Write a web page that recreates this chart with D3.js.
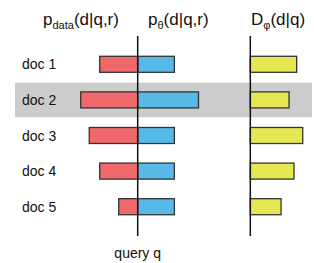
<!DOCTYPE html>
<html><head><meta charset="utf-8">
<script src="https://cdn.jsdelivr.net/npm/d3@7"></script>
<style>body{margin:0;background:#fff}svg{display:block}text{font-family:"Liberation Sans",Arial,sans-serif;fill:#111}</style>
</head><body>
<svg id="c" width="314" height="263"></svg>
<script>
const docs = ["doc 1","doc 2","doc 3","doc 4","doc 5"];
const pData = [0.2, 0.3, 0.255, 0.2, 0.1];
const pTheta = [0.193, 0.32, 0.193, 0.193, 0.193];
const dPhi = [0.244, 0.204, 0.276, 0.23, 0.162];
const highlighted = "doc 2";

const svg = d3.select("#c");
const y = d3.scaleBand().domain(docs).range([46.5, 224.5]).paddingInner(0.55).paddingOuter(0.275);
const w = d3.scaleLinear().domain([0,1]).range([0,190]);
const cx = 137.7, rx = 250.3;

// highlight band
const step = y.step();
svg.append("rect").attr("x",15).attr("width",297)
  .attr("y", y(highlighted) + y.bandwidth()/2 - 17.2).attr("height", 34.4)
  .attr("fill","#cccccc");

const stroke = "#333", sw = 1.3;
svg.selectAll(".red").data(docs).join("rect")
  .attr("x",(d,i)=>cx - w(pData[i])).attr("y",d=>y(d)).attr("width",(d,i)=>w(pData[i])).attr("height",y.bandwidth())
  .attr("fill","#f0696a").attr("stroke",stroke).attr("stroke-width",sw);
svg.selectAll(".blue").data(docs).join("rect")
  .attr("x",cx).attr("y",d=>y(d)).attr("width",(d,i)=>w(pTheta[i])).attr("height",y.bandwidth())
  .attr("fill","#56b9e8").attr("stroke",stroke).attr("stroke-width",sw);
svg.selectAll(".yel").data(docs).join("rect")
  .attr("x",rx).attr("y",d=>y(d)).attr("width",(d,i)=>w(dPhi[i])).attr("height",y.bandwidth())
  .attr("fill","#e5e853").attr("stroke",stroke).attr("stroke-width",sw);

// axes
[cx, rx].forEach(x=>svg.append("line").attr("x1",x).attr("x2",x).attr("y1",36).attr("y2",236)
  .attr("stroke","#111").attr("stroke-width",1.5));

// labels
svg.selectAll(".lab").data(docs).join("text")
  .attr("x",22).attr("y",d=>y(d)+y.bandwidth()/2+5).attr("font-size",14).text(d=>d);

svg.append("text").attr("x",cx).attr("y",258).attr("text-anchor","middle").attr("font-size",14).text("query q");

function title(x, main, sub, rest){
  const t = svg.append("text").attr("x",x).attr("y",25).attr("font-size",17);
  t.append("tspan").text(main);
  t.append("tspan").attr("font-size",11).attr("dy",4).text(sub);
  t.append("tspan").attr("dy",-4).text(rest);
}
title(43,"p","data","(d|q,r)");
title(148,"p","θ","(d|q,r)");
title(251,"D","φ","(d|q)");
</script>
</body></html>
